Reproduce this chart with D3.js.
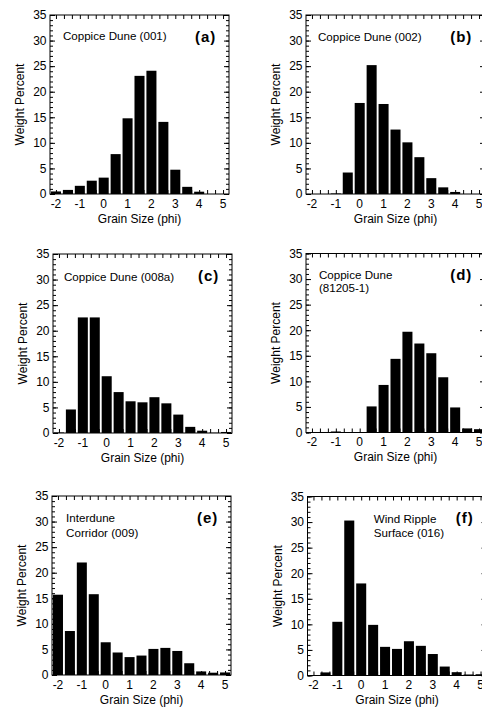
<!DOCTYPE html>
<html>
<head>
<meta charset="utf-8">
<script src="https://cdn.jsdelivr.net/npm/d3@7/dist/d3.min.js"></script>
<style>
  body { margin: 0; background: #fff; }
  svg { display: block; font-family: "Liberation Sans", Arial, sans-serif; }
</style>
</head>
<body>
<svg id="chart" width="482" height="708"></svg>
<script>
(function(){
    'use strict';

    // grain size classes (phi) and weight percent per sample
    var phiBins = [-2, -1.5, -1, -0.5, 0, 0.5, 1, 1.5, 2, 2.5, 3, 3.5, 4, 4.5, 5];
    var pct001  = [0.5, 0.8, 1.6, 2.6, 3.2, 7.8, 14.8, 23.1, 24.1, 14.1, 4.75, 1.4, 0.45, 0, 0];
    var pct002  = [0, 0, 0.1, 4.2, 17.8, 25.2, 17.6, 12.6, 10.1, 7.2, 3.1, 1.3, 0.4, 0, 0];
    var pct008a = [0.1, 4.6, 22.6, 22.6, 11.1, 8.0, 6.2, 6.0, 7.0, 5.8, 3.6, 1.2, 0.45, 0.05, 0.2];
    var pct81205 = [0.1, 0.1, 0.2, 0, 0, 5.1, 9.3, 14.4, 19.7, 17.4, 15.5, 10.8, 4.9, 0.8, 0.65];
    var pct009  = [15.7, 8.6, 22.0, 15.8, 6.4, 4.4, 3.5, 3.8, 5.1, 5.3, 4.7, 2.3, 0.7, 0.45, 0.5];
    var pct016  = [0, 0.6, 10.5, 30.3, 18.0, 9.9, 5.6, 5.2, 6.7, 5.8, 4.2, 1.75, 0.65, 0.2, 0.25];

    var xTickLabels = [-2, -1, 0, 1, 2, 3, 4, 5];
    var yTickLabels = [0, 5, 10, 15, 20, 25, 30, 35];

    var sampleNames = [
        ['Coppice Dune (001)'],
        ['Coppice Dune (002)'],
        ['Coppice Dune (008a)'],
        ['Coppice Dune', '(81205-1)'],
        ['Interdune', 'Corridor (009)'],
        ['Wind Ripple', 'Surface (016)']
    ];
    var panelTags = ['(a)', '(b)', '(c)', '(d)', '(e)', '(f)'];
    var series = [pct001, pct002, pct008a, pct81205, pct009, pct016];

    // layout: frame origin, label start in data units, line spacing
    var layout = [
        {left: 50,  top: 15,    labX: -1.71, labY: 30.9, lh: 13},
        {left: 306, top: 15,    labX: -1.75, labY: 30.7, lh: 13},
        {left: 53,  top: 254,   labX: -1.79, labY: 30.5, lh: 13},
        {left: 306, top: 253.5, labX: -1.71, labY: 30.8, lh: 13.3},
        {left: 52,  top: 496,   labX: -1.66, labY: 30.7, lh: 14.5},
        {left: 307.5, top: 496.5, labX: 0.53, labY: 30.6, lh: 13.3}
    ];
    var W = 179, H = 179;

    var svg = d3.select('#chart');
    svg.append('rect').attr('width', 482).attr('height', 708).attr('fill', '#fff');

    var x = d3.scaleLinear().domain([-2.25, 5.25]).range([0, W]);
    var y = d3.scaleLinear().domain([0, 35]).range([H, 0]);
    var barW = x(0.21) - x(-0.21);

    var thirds = d3.range(-6, 16).map(function(k) { return k / 3; });
    var units = d3.range(0, 36);

    function drawPanel(values, i) {
        var L = layout[i];
        var g = svg.append('g').attr('transform', 'translate(' + L.left + ',' + L.top + ')');

        g.selectAll('rect.bar').data(values).enter().append('rect')
            .attr('class', 'bar')
            .attr('x', function(d, j) { return x(phiBins[j]) - barW / 2; })
            .attr('y', function(d) { return y(d); })
            .attr('width', barW)
            .attr('height', function(d) { return H - y(d); })
            .attr('fill', '#000');

        // inner ticks on all four sides
        var axes = [
            d3.axisBottom(x).tickValues(thirds).tickSize(-4).tickFormat(''),
            d3.axisTop(x).tickValues(thirds).tickSize(-4).tickFormat(''),
            d3.axisLeft(y).tickValues(units).tickSize(-3).tickFormat(''),
            d3.axisLeft(y).tickValues(yTickLabels).tickSize(-5).tickFormat(''),
            d3.axisRight(y).tickValues(units).tickSize(-3).tickFormat(''),
            d3.axisRight(y).tickValues(yTickLabels).tickSize(-5).tickFormat('')
        ];
        var shifts = [[0, H], [0, 0], [0, 0], [0, 0], [W, 0], [W, 0]];
        axes.forEach(function(ax, k) {
            var a = g.append('g').attr('transform', 'translate(' + shifts[k][0] + ',' + shifts[k][1] + ')').call(ax);
            a.select('.domain').remove();
            a.selectAll('line').attr('stroke', '#000');
        });

        g.append('rect').attr('width', W).attr('height', H)
            .attr('fill', 'none').attr('stroke', '#000').attr('stroke-width', 1);

        // tick labels
        g.selectAll('text.xl').data(xTickLabels).enter().append('text')
            .attr('class', 'xl')
            .attr('x', function(d) { return x(d); })
            .attr('y', H + 13.5)
            .attr('text-anchor', 'middle')
            .attr('font-size', 12)
            .text(function(d) { return String(d); });

        g.selectAll('text.yl').data(yTickLabels).enter().append('text')
            .attr('class', 'yl')
            .attr('x', -3.5)
            .attr('y', function(d) { return y(d) + 4.3; })
            .attr('text-anchor', 'end')
            .attr('font-size', 12)
            .text(function(d) { return String(d); });

        g.append('text')
            .attr('x', W / 2).attr('y', H + 28.5)
            .attr('text-anchor', 'middle').attr('font-size', 12)
            .text('Grain Size (phi)');

        g.append('text')
            .attr('transform', 'translate(-26,' + (H / 2) + ') rotate(-90)')
            .attr('text-anchor', 'middle').attr('font-size', 12)
            .text('Weight Percent');

        // sample label
        var lab = g.append('text').attr('font-size', 11.6);
        sampleNames[i].forEach(function(line, k) {
            lab.append('tspan')
                .attr('x', x(L.labX))
                .attr('y', y(L.labY) + 4.2 + k * L.lh)
                .text(line);
        });

        g.append('text')
            .attr('x', x(4.72)).attr('y', y(30.7) + 5)
            .attr('text-anchor', 'end')
            .attr('font-size', 15).attr('font-weight', 'bold')
            .attr('letter-spacing', 1)
            .text(panelTags[i]);
    }

    series.forEach(drawPanel);
})();
</script>
</body>
</html>
